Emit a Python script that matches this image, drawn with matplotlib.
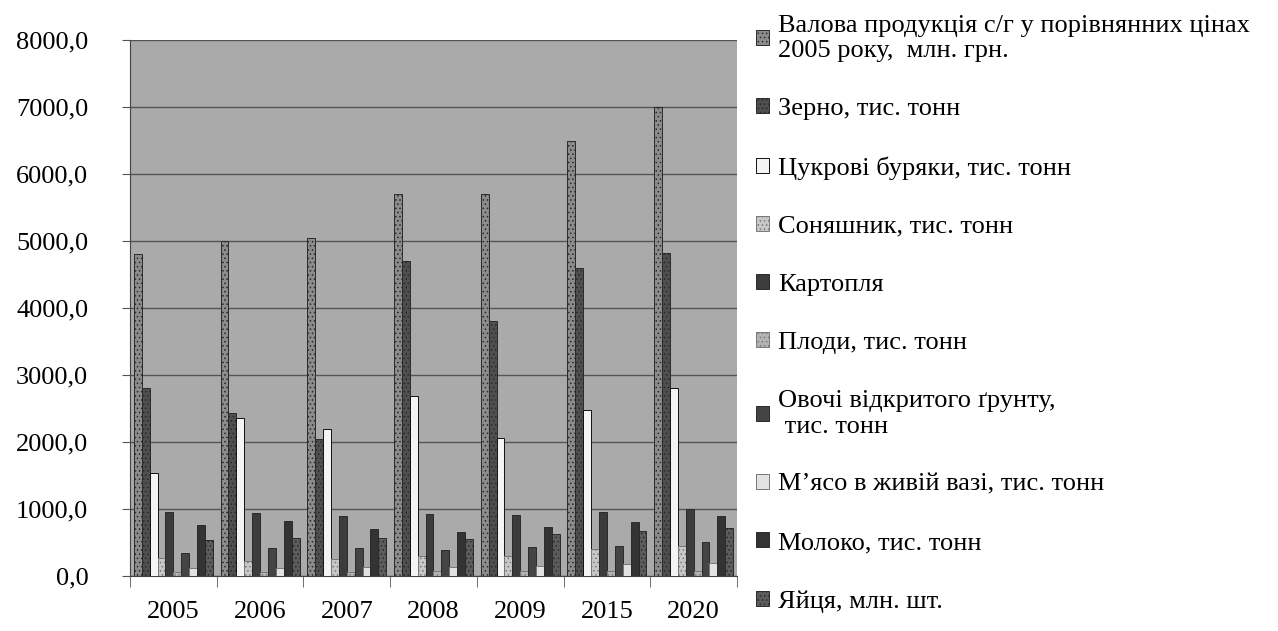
import numpy as np
import matplotlib
matplotlib.use('Agg')
import matplotlib.pyplot as plt

plt.rcParams['font.family'] = ['Liberation Serif', 'DejaVu Serif']
plt.rcParams['hatch.linewidth'] = 0.6

# Роки
years = ['2005', '2006', '2007', '2008', '2009', '2015', '2020']

# Показники
valova = [4800, 5000, 5050, 5700, 5700, 6500, 7000]
zerno = [2800, 2430, 2050, 4700, 3800, 4600, 4820]
buriaky = [1530, 2360, 2190, 2690, 2060, 2480, 2810]
soniashnyk = [270, 220, 250, 300, 300, 400, 450]
kartoplia = [960, 940, 900, 925, 910, 955, 1000]
plody = [60, 60, 60, 70, 70, 80, 80]
ovochi = [340, 420, 420, 390, 430, 450, 500]
miaso = [120, 120, 130, 140, 150, 180, 200]
moloko = [760, 820, 700, 660, 730, 800, 900]
yaitsia = [540, 570, 570, 550, 620, 670, 720]

labels = ['Валова продукція с/г у порівнянних цінах\n2005 року,  млн. грн.',
          'Зерно, тис. тонн',
          'Цукрові буряки, тис. тонн',
          'Соняшник, тис. тонн',
          'Картопля',
          'Плоди, тис. тонн',
          'Овочі відкритого ґрунту,\n тис. тонн',
          'М’ясо в живій вазі, тис. тонн',
          'Молоко, тис. тонн',
          'Яйця, млн. шт.']
series = [valova, zerno, buriaky, soniashnyk, kartoplia,
          plody, ovochi, miaso, moloko, yaitsia]

# Стилі стовпців (сірі відтінки, як у друкованому рисунку)
colors = ['#8c8c8c', '#4f4f4f', '#f4f4f4', '#c8c8c8', '#3c3c3c',
          '#b4b4b4', '#444444', '#e2e2e2', '#333333', '#5c5c5c']
hatches = ['....', '....', None, '....', None, '....', None, None, None, '....']
edges = ['#2a2a2a', '#2a2a2a', '#111111', '#777777', '#2a2a2a',
         '#777777', '#2a2a2a', '#777777', '#2a2a2a', '#2a2a2a']

fig = plt.figure(figsize=(12.78, 6.31), dpi=100)
ax = fig.add_axes([0.1017, 0.0872, 0.475, 0.8494])
ax.set_facecolor('#aaaaaa')

x = np.arange(len(years))
n = len(series)
w = 0.91 / n
for i in range(n):
    ax.bar(x - 0.455 + w * (i + 0.5), series[i], width=w, color=colors[i],
           edgecolor=edges[i], linewidth=0.7, hatch=hatches[i],
           label=labels[i], zorder=3)

ax.set_ylim(0, 8000)
ax.set_xlim(-0.5, len(years) - 0.5)
yt = np.arange(0, 8001, 1000)
ax.set_yticks(yt)
ax.set_yticklabels([f'{v:.1f}'.replace('.', ',') for v in yt])
ax.grid(axis='y', color='#555555', linewidth=1.0, zorder=1)

ax.set_xticks(x)
ax.set_xticklabels(years)
ax.set_xticks(np.arange(-0.5, len(years)), minor=True)
ax.tick_params(axis='x', which='major', length=0, pad=18, labelsize=19)
ax.tick_params(axis='x', which='minor', length=8, direction='out', color='#555555')
ax.tick_params(axis='y', length=6, pad=24, labelsize=19, color='#555555')

for s in ['top', 'right']:
    ax.spines[s].set_visible(False)
ax.spines['left'].set_color('#444444')
ax.spines['bottom'].set_color('#444444')

fig.legend(loc='upper left', bbox_to_anchor=(0.58, 1.0), frameon=False,
           fontsize=19, handlelength=0.5, handleheight=0.5, handletextpad=0.35,
           labelspacing=1.37, borderaxespad=0.15)

fig.savefig('out.png', dpi=100)
